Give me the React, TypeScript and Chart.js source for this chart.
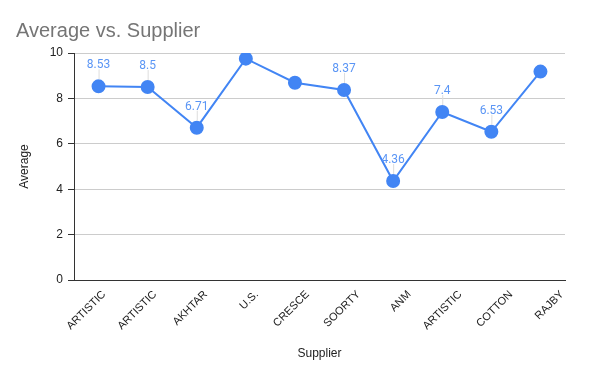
import React, { useEffect, useRef } from "react";
import { Chart, registerables } from "chart.js";

Chart.register(...registerables);

const suppliers = ["ARTISTIC", "ARTISTIC", "AKHTAR", "U.S.", "CRESCE", "SOORTY", "ANM", "ARTISTIC", "COTTON", "RAJBY"];
const averages = [8.53, 8.5, 6.71, 9.75, 8.69, 8.37, 4.36, 7.4, 6.53, 9.18];
const showLabel = [true, true, true, false, false, true, true, true, true, false];
const yTicks = [0, 2, 4, 6, 8, 10];

const titleText = "Average vs. Supplier";
const xTitle = "Supplier";
const yTitle = "Average";

const BLUE = "#4285F4";

const labelPlugin = {
  id: "pointLabels",
  afterDatasetsDraw(chart: any) {
    const ctx = chart.ctx;
    const meta = chart.getDatasetMeta(0);
    ctx.save();
    meta.data.forEach((pt: any, i: number) => {
      if (!showLabel[i]) return;
      const x = pt.x;
      const y = pt.y;
      ctx.strokeStyle = "#dddddd";
      ctx.lineWidth = 1;
      ctx.beginPath();
      ctx.moveTo(x + 0.5, y - 7);
      ctx.lineTo(x + 0.5, y - 17);
      ctx.stroke();
      ctx.fillStyle = "#5a95f5";
      ctx.font = "12px Roboto";
      ctx.textAlign = "center";
      ctx.textBaseline = "bottom";
      ctx.fillText(String(averages[i]), x, y - 15);
    });
    ctx.restore();
  },
};

const titlePlugin = {
  id: "customTitle",
  afterDraw(chart: any) {
    const ctx = chart.ctx;
    ctx.save();
    ctx.fillStyle = "#757575";
    ctx.font = "20px 'Liberation Sans', Arial";
    ctx.textAlign = "left";
    ctx.textBaseline = "alphabetic";
    ctx.fillText(titleText, 16, 37);
    ctx.restore();
  },
};

export default function App() {
  const ref = useRef<HTMLCanvasElement>(null);
  useEffect(() => {
    document.body.style.margin = "0";
    const chart = new Chart(ref.current!, {
      type: "line",
      data: {
        labels: suppliers,
        datasets: [
          {
            data: averages,
            xAxisID: "x",
            borderColor: BLUE,
            backgroundColor: BLUE,
            borderWidth: 2,
            pointRadius: 6,
            pointHoverRadius: 6,
            pointBackgroundColor: BLUE,
            pointBorderColor: BLUE,
            tension: 0,
          },
        ],
      },
      options: {
        animation: false,
        responsive: false,
        layout: { padding: { top: 53, left: 10, right: 35, bottom: 6 } },
        plugins: {
          legend: { display: false },
          tooltip: { enabled: false },
          title: { display: false },
        },
        scales: {
          x: {
            type: "category",
            offset: true,
            display: false,
          },
          xLabels: {
            type: "linear",
            position: "bottom",
            min: -0.59,
            max: 9.06,
            afterBuildTicks(scale: any) {
              scale.ticks = suppliers.map((_, i) => ({ value: i }));
            },
            grid: { display: false, drawTicks: false },
            border: { color: "#333333", width: 1 },
            ticks: {
              maxRotation: 45,
              minRotation: 45,
              autoSkip: false,
              padding: 8,
              color: "#222222",
              font: { family: "Liberation Sans, Arial", size: 11 },
              callback: (v: any) => suppliers[Math.round(Number(v))] ?? "",
            },
            title: {
              display: true,
              text: xTitle,
              color: "#222222",
              font: { family: "Liberation Sans, Arial", size: 12 },
              padding: { top: 4, bottom: 4 },
            },
            afterFit(scale: any) {
              scale.height = 85;
            },
          },
          y: {
            min: 0,
            max: 10,
            afterBuildTicks(scale: any) {
              scale.ticks = yTicks.map((v) => ({ value: v }));
            },
            grid: { color: "#cccccc", tickColor: "#333333", tickLength: 6 },
            border: { color: "#333333", width: 1 },
            ticks: {
              padding: 5,
              color: "#222222",
              font: { family: "Liberation Sans, Arial", size: 12 },
            },
            title: {
              display: true,
              text: yTitle,
              color: "#222222",
              font: { family: "Liberation Sans, Arial", size: 12 },
              padding: { top: 7, bottom: 0 },
            },
            afterFit(scale: any) {
              scale.width = 64;
            },
          },
        },
      } as any,
      plugins: [labelPlugin, titlePlugin],
    });
    return () => chart.destroy();
  }, []);
  return <canvas ref={ref} width={600} height={371} style={{ display: "block" }} />;
}
